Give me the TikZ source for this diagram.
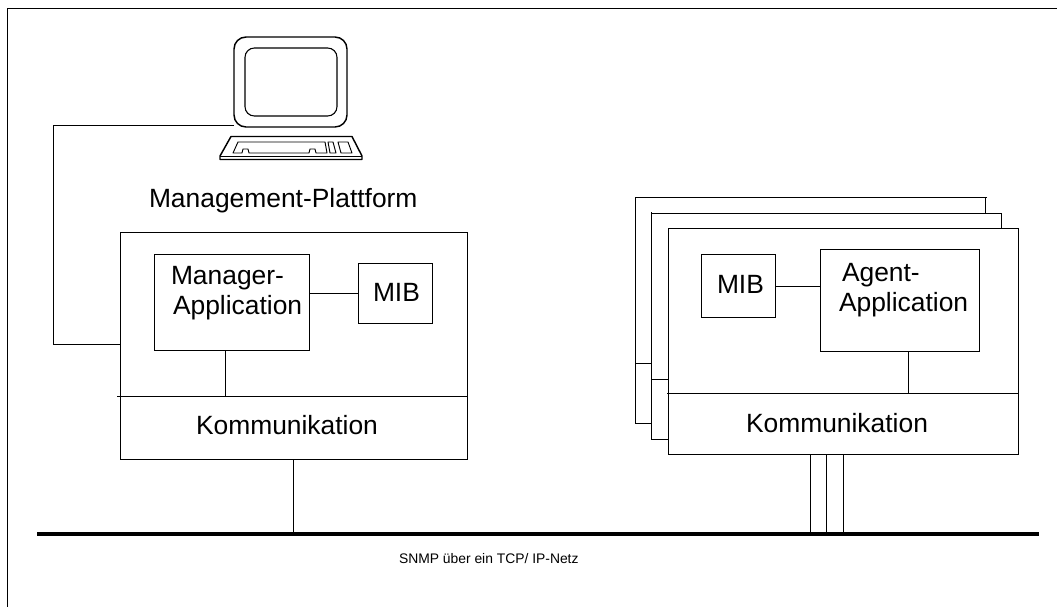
\documentclass[tikz,border=0pt]{standalone}
\usepackage{fontspec}
\setmainfont{Liberation Sans}
\newdimen\px \px=0.75pt
\tikzset{
  ln/.style={line width=0.8pt,line cap=butt},
  boxn/.style={draw,line width=0.8pt,inner sep=0pt,outer sep=0pt,anchor=north west},
  big/.style={inner sep=0pt,outer sep=0pt,font=\fontsize{19.8}{22.5}\selectfont},
  bigl/.style={big,anchor=base west},
  twoline/.style={big,align=left,anchor=north west},
  small/.style={inner sep=0pt,outer sep=0pt,anchor=base west,font=\fontsize{10.4}{12}\selectfont},
}
\begin{document}
\begin{tikzpicture}[x=0.75pt,y=-0.75pt]
\useasboundingbox (0,0) rectangle (1057,607);
% outer frame (open on right and bottom)
\coordinate (fb) at (7.5,607);
\coordinate (fc) at (7.5,8.5);
\coordinate (fr) at (1057,8.5);
\draw[line width=1pt] (fb) -- (fc) -- (fr);
% bus
\coordinate (busl) at (37,534);
\coordinate (busr) at (1039,534);
\draw[line width=3pt] (busl) -- (busr);
% monitor
\node[boxn,line width=1.1pt,rounded corners=9pt,minimum width=113\px,minimum height=90\px] (mon) at (234,37) {};
\node[boxn,line width=0.8pt,rounded corners=7pt,minimum width=92\px,minimum height=68\px] (scr) at (245,48) {};
% keyboard
\draw[line width=1.1pt,line join=round] (231,136.5) -- (352,136.5) -- (362,156) -- (362,159.5) -- (220,159.5) -- (220,156) -- cycle;
\draw[line width=0.6pt] (220,156) -- (362,156);
\draw[line width=0.7pt,line join=round] (238,142) -- (325,142) -- (327,153) -- (316,153) -- (315,149) -- (310,149) -- (309,153) -- (249,153) -- (248,149) -- (243,149) -- (242,153) -- (233,153) -- cycle;
\draw[line width=0.7pt,line join=round] (328,142) -- (333,142) -- (336,153) -- (330,153) -- cycle;
\draw[line width=0.7pt,line join=round] (338,142) -- (348,142) -- (352,153) -- (341,153) -- cycle;
% left station
\node[boxn,minimum width=347\px,minimum height=164\px] (plat) at (120.5,232.5) {};
\node[boxn,minimum width=347\px,minimum height=63\px] (komL) at (120.5,396.5) {};
\node[boxn,minimum width=155\px,minimum height=96\px] (mgr) at (154.5,254.5) {};
\node[boxn,minimum width=74\px,minimum height=60\px] (mibL) at (358.5,263.5) {};
\coordinate (dl) at (117,396.5);
\draw[ln] (dl) -- (komL.north west);
\coordinate (c1) at (53.5,125.5);
\coordinate (c2) at (53.5,344.5);
\draw[ln] (mon.west |- c1) -- (c1) -- (c2) -- (plat.west |- c2);
\draw[ln] (mgr.east |- mibL.west) -- (mibL.west);
\coordinate (c3) at (225.5,396.5);
\draw[ln] (mgr.south -| c3) -- (c3);
\coordinate (c4) at (293.5,534);
\draw[ln] (komL.south -| c4) -- (c4);
% right stack
\coordinate (bk1) at (635.5,423.5);
\coordinate (bk2) at (635.5,197.5);
\coordinate (bk3) at (987,197.5);
\coordinate (bk4) at (985.5,197.5);
\coordinate (bk5) at (985.5,213.5);
\coordinate (bk6) at (635.5,363.5);
\coordinate (md1) at (651.5,439.5);
\coordinate (md2) at (651.5,212);
\coordinate (md3) at (651.5,213.5);
\coordinate (md4) at (1001.5,213.5);
\coordinate (md5) at (1001.5,228.5);
\coordinate (md6) at (651.5,379.5);
\node[boxn,minimum width=350\px,minimum height=165\px] (agt) at (668.5,228.5) {};
\node[boxn,minimum width=350\px,minimum height=61\px] (komR) at (668.5,393.5) {};
\node[boxn,minimum width=74\px,minimum height=63\px] (mibR) at (701.5,254.5) {};
\node[boxn,minimum width=159\px,minimum height=102\px] (agapp) at (820.5,249.5) {};
\draw[ln] (md3) -- (md4) -- (md5);
\draw[ln] (md1) -- (md2);
\draw[ln] (bk3) -- (bk2) -- (bk1) -- (bk1 -| md1);
\draw[ln] (bk4) -- (bk5);
\draw[ln] (bk6) -- (bk6 -| md1);
\draw[ln] (md6) -- (md6 -| komR.west);
\draw[ln] (md1) -- (md1 -| komR.west);
\coordinate (dr) at (667,393.5);
\draw[ln] (dr) -- (komR.north west);
\coordinate (c5) at (0,286.5);
\draw[ln] (mibR.east |- c5) -- (agapp.west |- c5);
\coordinate (c6) at (908.5,393.5);
\draw[ln] (agapp.south -| c6) -- (c6);
\coordinate (b1) at (810.5,534);
\coordinate (b2) at (826.5,534);
\coordinate (b3) at (843.5,534);
\draw[ln] (komR.south -| b1) -- (b1);
\draw[ln] (komR.south -| b2) -- (b2);
\draw[ln] (komR.south -| b3) -- (b3);
% texts
\node[bigl] (t1) at (149,207) {Management-Plattform};
\node[twoline] (t2) at (171,266) {Manager-\\\hspace*{2\px}Application};
\node[bigl] (t3) at (373,301.5) {MIB};
\node[bigl] (t4) at (196,434) {Kommunikation};
\node[twoline] (t5) at (839,263) {\hspace*{3\px}Agent-\\Application};
\node[bigl] (t6) at (717,293.5) {MIB};
\node[bigl] (t7) at (746,432) {Kommunikation};
\node[small] (t8) at (399,563) {SNMP über ein TCP/ IP-Netz};
\end{tikzpicture}
\end{document}
